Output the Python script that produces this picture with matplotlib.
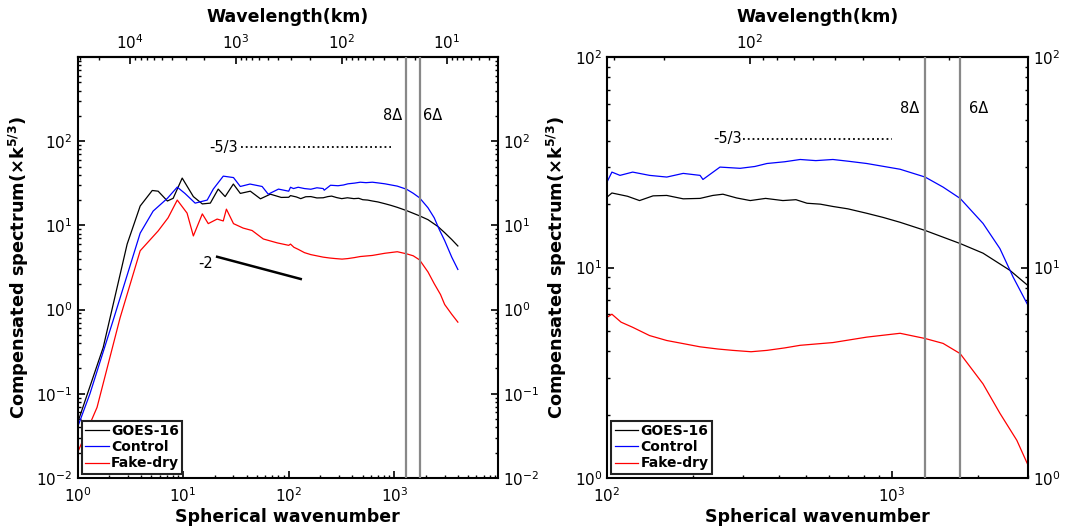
import numpy as np
import matplotlib
matplotlib.use('Agg')
import matplotlib.pyplot as plt
from matplotlib.ticker import LogLocator, NullFormatter, FixedLocator

plt.rcParams['font.family'] = ['DejaVu Sans']
plt.rcParams['mathtext.default'] = 'bf'
plt.rcParams['axes.linewidth'] = 1.5

# spectra (spherical wavenumber, compensated spectrum)
goes_n = [1, 1.75, 2.95, 3.92, 5.1, 5.8, 7.1, 8.05, 9.8, 12.5, 15.2, 18.1, 21.5, 25, 29.9,
          34.8, 43.3, 54, 67, 85, 100, 104, 118, 130, 145, 162, 185, 212, 235, 255, 285, 318,
          360, 414, 460, 503, 560, 620, 700, 815, 930, 1067, 1306, 1733, 2085, 2590, 3000,
          3500, 4000]
goes_s = [0.045, 0.355, 6.0, 17, 26, 25.5, 19.5, 21, 36.5, 22, 18, 18.4, 27, 22, 31,
          24, 25.5, 20.7, 23.5, 21.5, 21.6, 22.6, 21.8, 20.8, 21.9, 22, 21.2, 21.3, 22.0, 22.3,
          21.4, 20.8, 21.3, 20.8, 21.0, 20.2, 20.0, 19.5, 19.0, 18.1, 17.3, 16.4, 15.0, 13.0,
          11.7, 9.7, 8.2, 6.8, 5.7]

ctrl_n = [1, 1.31, 2.17, 3.92, 5.2, 7.1, 8.8, 10.4, 13, 16.9, 19.3, 24, 30, 34.8, 43, 56, 64,
          80, 100, 104, 111, 123, 141, 162, 185, 212, 217, 249, 293, 330, 364, 420, 476, 540,
          620, 700, 815, 1067, 1306, 1510, 1733, 2085, 2390, 2660, 3000, 3500, 4000]
ctrl_s = [0.04, 0.1, 0.74, 8.1, 14.8, 21, 28.5, 24, 18.4, 20, 27, 38.5, 37, 29, 31, 29, 23.5,
          27, 25.5, 28.4, 27.4, 28.4, 27.4, 26.9, 28.0, 27.4, 26.2, 30, 29.6, 30.2, 31.2, 31.8,
          32.6, 32.2, 32.6, 32.0, 31.2, 29.3, 26.9, 24.1, 21.3, 16.2, 12.3, 9.0, 6.6, 4.2, 3.0]

dry_n = [1, 1.53, 2.53, 3.92, 5.8, 7.2, 8.8, 10.9, 12.5, 15.2, 17.3, 21, 24, 25.7, 30, 37,
         45, 57.5, 78, 100, 104, 112, 123, 141, 162, 185, 212, 245, 276, 320, 364, 420, 476,
         620, 815, 1067, 1306, 1510, 1733, 2085, 2390, 2740, 3000, 3500, 4000]
dry_s = [0.02, 0.069, 0.8, 5.0, 8.6, 12.3, 20, 14, 7.5, 13.7, 10.5, 11.9, 11.3, 15.6, 10.5, 9.3,
         8.7, 6.9, 6.2, 5.8, 6.0, 5.5, 5.2, 4.75, 4.5, 4.35, 4.2, 4.1, 4.04, 3.98, 4.04, 4.15,
         4.27, 4.4, 4.67, 4.87, 4.6, 4.36, 3.9, 2.8, 2.03, 1.51, 1.15, 0.88, 0.71]

labels = ['GOES-16', 'Control', 'Fake-dry']
colors = ['black', 'blue', 'red']

# grid-scale markers (8 and 6 grid spacings)
delta_n = [1300, 1733]

# reference slopes
slope53_left = ([35, 940], [85, 85])
slope2_left = ([21, 130], [4.24, 2.31])
slope53_right = ([300, 1000], [40.9, 40.9])

lam_c = 10 ** 4.5  # wavelength(km) = lam_c / n


def n2lam(x):
    x = np.asarray(x, dtype=float)
    with np.errstate(divide='ignore'):
        return lam_c / x


def style_axes(ax, xlim, ylim, yticks, top_ticks):
    ax.set_xscale('log')
    ax.set_yscale('log')
    ax.set_xlim(*xlim)
    ax.set_ylim(*ylim)
    ax.set_yticks(yticks)
    ax.yaxis.set_minor_locator(LogLocator(base=10, subs=np.arange(2, 10)))
    ax.yaxis.set_minor_formatter(NullFormatter())
    ax.xaxis.set_minor_formatter(NullFormatter())
    ax.tick_params(which='both', direction='in', top=False, right=True,
                   labelright=True, labelsize=11)
    ax.tick_params(axis='x', pad=6)
    ax.tick_params(which='major', length=5, width=1.2)
    ax.tick_params(which='minor', length=2.5, width=1)
    ax.set_xlabel('Spherical wavenumber', fontsize=12.5, fontweight='bold', labelpad=2)
    ax.set_ylabel(r'Compensated spectrum($\times$k$^{5/3}$)', fontsize=12.8,
                  fontweight='bold', labelpad=4)
    sec = ax.secondary_xaxis('top', functions=(n2lam, n2lam))
    sec.xaxis.set_major_locator(FixedLocator(top_ticks))
    sec.xaxis.set_minor_locator(LogLocator(base=10, subs=np.arange(2, 10), numticks=20))
    sec.xaxis.set_minor_formatter(NullFormatter())
    sec.tick_params(which='both', direction='in', labelsize=11)
    sec.tick_params(which='major', length=5, width=1.2)
    sec.tick_params(which='minor', length=2.5, width=1)
    sec.set_xlabel('Wavelength(km)', fontsize=12.5, fontweight='bold', labelpad=8)
    for x in delta_n:
        ax.axvline(x, color='#888888', lw=1.6, zorder=3)


fig = plt.figure(figsize=(10.68, 5.30), dpi=100)
ax1 = fig.add_axes([0.0726, 0.0981, 0.3937, 0.7943])
ax2 = fig.add_axes([0.5684, 0.0981, 0.3942, 0.7943])

for ax in (ax1, ax2):
    for n, s, lab, c in zip([goes_n, ctrl_n, dry_n], [goes_s, ctrl_s, dry_s], labels, colors):
        ax.plot(n, s, color=c, lw=0.9, label=lab)

style_axes(ax1, (1, 9600), (1e-2, 1e3), [1e-2, 1e-1, 1e0, 1e1, 1e2], [1e1, 1e2, 1e3, 1e4])
style_axes(ax2, (100, 3000), (1, 100), [1, 10, 100], [1e2])

# left panel annotations
ax1.plot(*slope53_left, color='black', ls=':', lw=1.3)
ax1.text(33, 85, '-5/3', ha='right', va='center', fontsize=10.5)
ax1.plot(*slope2_left, color='black', lw=1.8)
ax1.text(19, 3.5, '-2', ha='right', va='center', fontsize=10.5)
ax1.text(1200, 200, '8Δ', ha='right', va='center', fontsize=10.5)
ax1.text(1860, 200, '6Δ', ha='left', va='center', fontsize=10.5)

# right panel annotations
ax2.plot(*slope53_right, color='black', ls=':', lw=1.3)
ax2.text(297, 40.9, '-5/3', ha='right', va='center', fontsize=10.5)
ax2.text(1245, 57, '8Δ', ha='right', va='center', fontsize=10.5)
ax2.text(1860, 57, '6Δ', ha='left', va='center', fontsize=10.5)

for ax in (ax1, ax2):
    leg = ax.legend(loc='lower left', prop={'weight': 'bold', 'size': 10},
                    handlelength=1.7, handletextpad=0.15, labelspacing=0.15,
                    borderpad=0.25, borderaxespad=0.3, fancybox=False, framealpha=1)
    leg.get_frame().set_edgecolor('#222222')
    leg.get_frame().set_linewidth(1.5)

fig.savefig('out.png', dpi=100)
